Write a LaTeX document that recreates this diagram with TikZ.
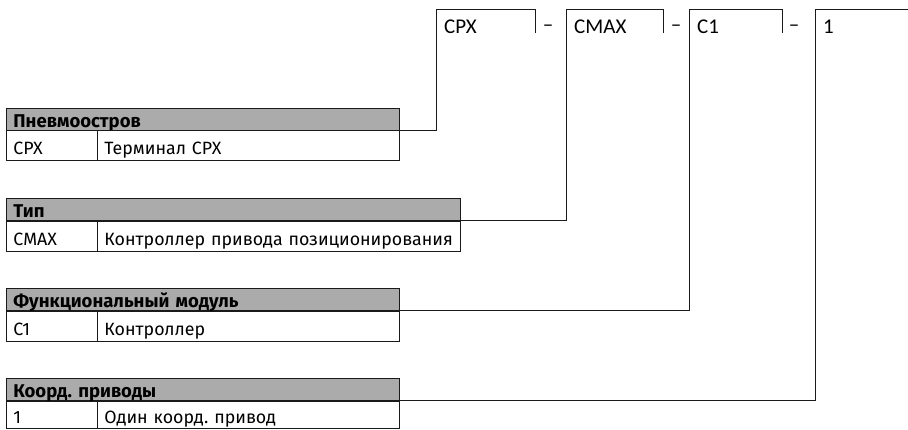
\documentclass[tikz,border=0pt]{standalone}
\usepackage{fontspec}
\setmainfont{Fira Sans}
\newfontfamily\boxfont{Carlito}
\definecolor{hdrgray}{HTML}{ABABAB}
\definecolor{linec}{HTML}{1A1A1A}
\frenchspacing
\begin{document}
\begin{tikzpicture}[x=1pt,y=-1pt,
  hdr/.style={draw=linec, line width=0.9pt, fill=hdrgray, anchor=north west, minimum height=22pt,
    inner xsep=7pt, inner ysep=0pt, text height=16pt, text depth=0pt, align=left,
    font=\bfseries\fontsize{18.5}{20}\selectfont},
  cell/.style={draw=linec, line width=0.9pt, anchor=north west, minimum height=30pt,
    inner xsep=7pt, inner ysep=0pt, text height=18pt, text depth=0pt, align=left,
    font=\fontsize{17.8}{20}\selectfont},
  tbox/.style={anchor=north west, minimum height=22pt, inner xsep=8pt, inner ysep=0pt,
    text height=24pt, text depth=0pt, align=left, font=\boxfont\fontsize{21}{23}\selectfont},
  dashlbl/.style={font=\boxfont\fontsize{21}{23}\selectfont, inner sep=0pt, anchor=base},
  conn/.style={draw=linec, line width=0.9pt}]
\useasboundingbox (0,0) rectangle (908,429);

% top type-code boxes
\node[tbox, text width=83pt] (b1) at (436,9) {CPX};
\node[tbox, text width=81pt] (b2) at (566,9) {CMAX};
\node[tbox, text width=77pt] (b3) at (689,9) {C1};
\node[tbox, text width=84pt] (b4) at (815,9) {1};
\node[dashlbl] (d1) at (548,31) {–};
\node[dashlbl] (d2) at (676,31) {–};
\node[dashlbl] (d3) at (794,31) {–};

% tables
\node[hdr, text width=379pt] (h1) at (6,108) {Пневмоостров};
\node[cell, text width=77pt] (r1a) at (6,130) {CPX};
\node[cell, text width=288pt] (r1b) at (97,130) {Терминал CPX};

\node[hdr, text width=440pt] (h2) at (6,198) {Тип};
\node[cell, text width=77pt] (r2a) at (6,221) {CMAX};
\node[cell, text width=349pt] (r2b) at (97,221) {Контроллер привода позиционирования};

\node[hdr, text width=379pt] (h3) at (6,288) {Функциональный модуль};
\node[cell, text width=77pt] (r3a) at (6,311) {C1};
\node[cell, text width=288pt] (r3b) at (97,311) {Контроллер};

\node[hdr, text width=379pt] (h4) at (6,378) {Коорд. приводы};
\node[cell, text width=77pt, minimum height=27pt] (r4a) at (6,401) {1};
\node[cell, text width=288pt, minimum height=27pt] (r4b) at (97,401) {Один коорд. привод};

% connectors and box outlines
\draw[conn] (h1.south east) -| (b1.north west) -- (b1.north east) -- (b1.south east);
\draw[conn] (h2.south east) -| (b2.north west) -- (b2.north east) -- (b2.south east);
\draw[conn] (h3.south east) -| (b3.north west) -- (b3.north east) -- (b3.south east);
\draw[conn] (h4.south east) -| (b4.north west) -- (b4.north east);
\end{tikzpicture}
\end{document}
